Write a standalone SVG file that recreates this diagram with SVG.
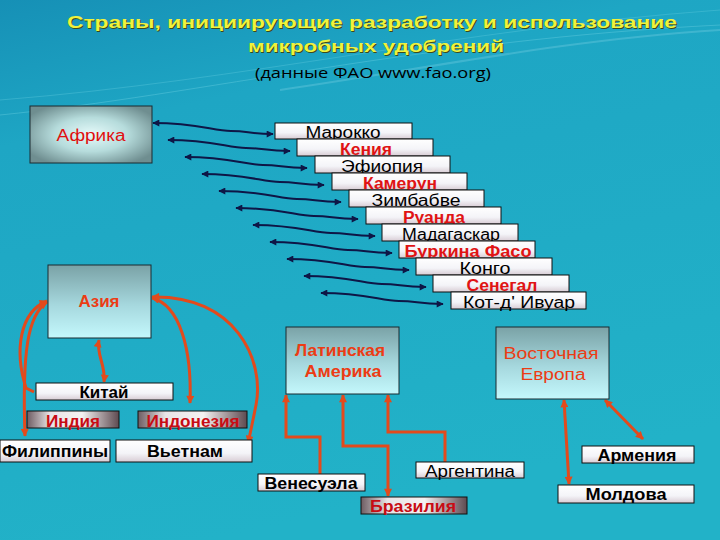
<svg xmlns="http://www.w3.org/2000/svg" width="720" height="540" viewBox="0 0 720 540">
<defs>
<linearGradient id="bg" x1="0" y1="0" x2="0.3" y2="1">
<stop offset="0" stop-color="#1690b6"/>
<stop offset="0.25" stop-color="#1ea6c4"/>
<stop offset="1" stop-color="#22b2c8"/>
</linearGradient>
<radialGradient id="gAfr" cx="0.5" cy="0.5" r="0.6">
<stop offset="0" stop-color="#e6fafa"/>
<stop offset="0.5" stop-color="#b6dcdc"/>
<stop offset="1" stop-color="#6f8e90"/>
</radialGradient>
<linearGradient id="gReg" x1="0" y1="0" x2="0" y2="1">
<stop offset="0" stop-color="#7aa2a6"/>
<stop offset="0.55" stop-color="#a6d8de"/>
<stop offset="1" stop-color="#c4f8fc"/>
</linearGradient>
<linearGradient id="gWhite" x1="0" y1="0" x2="0" y2="1">
<stop offset="0" stop-color="#ffffff"/>
<stop offset="0.6" stop-color="#f4f4f8"/>
<stop offset="1" stop-color="#d8ccd4"/>
</linearGradient>
<linearGradient id="gDark" x1="0" y1="0" x2="1" y2="0">
<stop offset="0" stop-color="#6e5c62"/>
<stop offset="0.25" stop-color="#e8e4e6"/>
<stop offset="0.6" stop-color="#f4f2f2"/>
<stop offset="1" stop-color="#5e4a50"/>
</linearGradient>
<marker id="mNav" viewBox="0 0 10 10" refX="9" refY="5" markerWidth="9" markerHeight="7" orient="auto-start-reverse" markerUnits="userSpaceOnUse">
<path d="M0,0 L10,5 L0,10 z" fill="#0e1646"/>
</marker>
<marker id="mOr" viewBox="0 0 10 10" refX="9" refY="5" markerWidth="9" markerHeight="8" orient="auto-start-reverse" markerUnits="userSpaceOnUse">
<path d="M0,0 L10,5 L0,10 z" fill="#e34a1c"/>
</marker>
</defs>
<style>
.t{font-family:"Liberation Sans",Arial,sans-serif;font-size:16px;text-anchor:middle}
.b{font-weight:bold}
.blk{fill:#000}
.red{fill:#e01414;font-weight:bold}
.dred{fill:#c80c14;font-weight:bold}
.org{fill:#ec3c14;font-weight:bold}
.wbox{fill:url(#gWhite);stroke:#101010;stroke-width:1}
.dbox{fill:url(#gDark);stroke:#101010;stroke-width:1}
.rbox{fill:url(#gReg);stroke:#1a2a30;stroke-width:1}
.nav{fill:none;stroke:#0e1646;stroke-width:2;marker-start:url(#mNav);marker-end:url(#mNav)}
.or{fill:none;stroke:#e34a1c;stroke-width:3}
.me{marker-end:url(#mOr)}
.ms{marker-start:url(#mOr)}
.title{font-family:"Liberation Sans",Arial,sans-serif;font-weight:bold;font-size:17px;text-anchor:middle}
</style>
<rect x="0" y="0" width="720" height="540" fill="url(#bg)"/>
<path d="M0,115 C200,95 420,40 720,25" fill="none" stroke="#5cc8dc" stroke-width="1" opacity="0.5"/>
<path d="M0,100 C250,80 450,30 720,10" fill="none" stroke="#5cc8dc" stroke-width="1" opacity="0.4"/>
<path d="M280,90 C420,70 560,40 720,30" fill="none" stroke="#8ad8e8" stroke-width="2" opacity="0.3"/>

<g id="title">
<text class="title" x="373" y="29" fill="#3c4a1a" textLength="610" lengthAdjust="spacingAndGlyphs">Страны, инициирующие разработку и использование</text>
<text class="title" x="372" y="28" fill="#f0f23c" textLength="610" lengthAdjust="spacingAndGlyphs">Страны, инициирующие разработку и использование</text>
<text class="title" x="377" y="53" fill="#3c4a1a" textLength="256" lengthAdjust="spacingAndGlyphs">микробных удобрений</text>
<text class="title" x="376" y="52" fill="#f0f23c" textLength="256" lengthAdjust="spacingAndGlyphs">микробных удобрений</text>
<text x="373" y="78" font-family="'Open Sans','Liberation Sans',sans-serif" font-size="15" text-anchor="middle" fill="#000" textLength="236" lengthAdjust="spacingAndGlyphs">(данные ФАО www.fao.org)</text>
</g>

<g id="connectors">
<path class="nav" d="M153,123 C198,123 213,131 231,131 S248,134 273,134"/>
<path class="nav" d="M168,140 C213,140 228,148 246,148 S265,151 290,151"/>
<path class="nav" d="M185,157 C230,157 245,165 263,165 S282,168 307,168"/>
<path class="nav" d="M202,174 C247,174 262,182 280,182 S299,185 324,185"/>
<path class="nav" d="M219,191 C264,191 279,199 297,199 S316,202 341,202"/>
<path class="nav" d="M236,208 C281,208 296,216 314,216 S333,219 358,219"/>
<path class="nav" d="M253,225 C298,225 313,233 331,233 S350,236 375,236"/>
<path class="nav" d="M270,242 C315,242 330,250 348,250 S367,253 392,253"/>
<path class="nav" d="M287,259 C332,259 347,267 365,267 S384,270 409,270"/>
<path class="nav" d="M304,276 C349,276 364,284 382,284 S401,287 426,287"/>
<path class="nav" d="M321,293 C366,293 381,301 399,301 S418,304 443,304"/>

<path class="or me ms" d="M99,340 C96,355 106,365 104,382"/>
<path class="or ms" d="M47,301 C20,312 14,350 26,388 L34,392"/>
<path class="or ms me" d="M47,302 C28,315 22,350 25,436"/>
<path class="or ms me" d="M152,298 C180,305 192,350 190,403"/>
<path class="or ms me" d="M152,297 C235,295 265,360 256,405 C252,425 250,435 248,443"/>

<path class="or me" d="M320,474 V437 H286 V395"/>
<path class="or ms me" d="M343,395 V446 H388 V496"/>
<path class="or me" d="M445,462 V432 H388 V395"/>

<path class="or ms me" d="M564,400 L569,484"/>
<path class="or ms me" d="M605,400 L643,439"/>
</g>

<g id="africa"><rect x="30" y="106" width="122" height="57" fill="url(#gAfr)" stroke="#1a2a30"/><text class="t" x="91" y="141" font-size="18" fill="#e01010" textLength="69" lengthAdjust="spacingAndGlyphs">Африка</text></g>
<g id="asia"><rect x="48" y="265" width="103" height="73" class="rbox"/><text class="t org" x="99" y="307" textLength="41" lengthAdjust="spacingAndGlyphs">Азия</text></g>
<g id="latam"><rect x="286" y="327" width="113" height="67" class="rbox"/><text class="t org" x="340" y="356" font-size="15" textLength="90" lengthAdjust="spacingAndGlyphs">Латинская</text><text class="t org" x="343" y="377" font-size="15" textLength="77" lengthAdjust="spacingAndGlyphs">Америка</text></g>
<g id="easteurope"><rect x="496" y="327" width="113" height="72" class="rbox"/><text class="t" x="551" y="359" font-size="15" fill="#ec3c14" textLength="95" lengthAdjust="spacingAndGlyphs">Восточная</text><text class="t" x="553" y="380" font-size="15" fill="#ec3c14" textLength="65" lengthAdjust="spacingAndGlyphs">Европа</text></g>

<g id="morocco"><rect x="275" y="123" width="137" height="16" class="wbox"/><text class="t blk" x="343" y="138" textLength="75" lengthAdjust="spacingAndGlyphs">Марокко</text></g>
<g id="kenya"><rect x="297" y="139" width="136" height="17" class="wbox"/><text class="t red" x="366" y="155" textLength="52" lengthAdjust="spacingAndGlyphs">Кения</text></g>
<g id="ethiopia"><rect x="315" y="156" width="135" height="17" class="wbox"/><text class="t blk" x="382" y="172" textLength="82" lengthAdjust="spacingAndGlyphs">Эфиопия</text></g>
<g id="cameroon"><rect x="332" y="173" width="135" height="17" class="wbox"/><text class="t red" x="400" y="189" textLength="74" lengthAdjust="spacingAndGlyphs">Камерун</text></g>
<g id="zimbabwe"><rect x="349" y="190" width="135" height="17" class="wbox"/><text class="t blk" x="416" y="206" textLength="89" lengthAdjust="spacingAndGlyphs">Зимбабве</text></g>
<g id="rwanda"><rect x="366" y="207" width="135" height="17" class="wbox"/><text class="t red" x="434" y="223" textLength="62" lengthAdjust="spacingAndGlyphs">Руанда</text></g>
<g id="madagascar"><rect x="382" y="224" width="136" height="17" class="wbox"/><text class="t blk" x="451" y="240" textLength="98" lengthAdjust="spacingAndGlyphs">Мадагаскар</text></g>
<g id="burkina"><rect x="399" y="241" width="136" height="17" class="wbox"/><text class="t red" x="468" y="257" textLength="127" lengthAdjust="spacingAndGlyphs">Буркина Фасо</text></g>
<g id="congo"><rect x="416" y="258" width="136" height="17" class="wbox"/><text class="t blk" x="485" y="274" textLength="51" lengthAdjust="spacingAndGlyphs">Конго</text></g>
<g id="senegal"><rect x="433" y="275" width="136" height="17" class="wbox"/><text class="t red" x="502" y="291" textLength="71" lengthAdjust="spacingAndGlyphs">Сенегал</text></g>
<g id="ivorycoast"><rect x="451" y="292" width="135" height="17" class="wbox"/><text class="t blk" x="519" y="308" textLength="112" lengthAdjust="spacingAndGlyphs">Кот-д' Ивуар</text></g>

<g id="china"><rect x="36" y="383" width="137" height="17" class="wbox"/><text class="t blk b" x="104" y="398" textLength="49" lengthAdjust="spacingAndGlyphs">Китай</text></g>
<g id="india"><rect x="27" y="411" width="92" height="17" class="dbox"/><text class="t dred" x="73" y="427" textLength="54" lengthAdjust="spacingAndGlyphs">Индия</text></g>
<g id="indonesia"><rect x="138" y="411" width="109" height="17" class="dbox"/><text class="t dred" x="193" y="427" textLength="93" lengthAdjust="spacingAndGlyphs">Индонезия</text></g>
<g id="philippines"><rect x="0" y="440" width="110" height="22" class="wbox"/><text class="t blk b" x="55" y="457" textLength="106" lengthAdjust="spacingAndGlyphs">Филиппины</text></g>
<g id="vietnam"><rect x="116" y="440" width="136" height="22" class="wbox"/><text class="t blk b" x="185" y="457" textLength="76" lengthAdjust="spacingAndGlyphs">Вьетнам</text></g>

<g id="venezuela"><rect x="258" y="474" width="107" height="17" class="wbox"/><text class="t blk b" x="311" y="489" textLength="93" lengthAdjust="spacingAndGlyphs">Венесуэла</text></g>
<g id="brazil"><rect x="361" y="497" width="106" height="17" class="dbox"/><text class="t dred" x="413" y="512" textLength="86" lengthAdjust="spacingAndGlyphs">Бразилия</text></g>
<g id="argentina"><rect x="416" y="462" width="108" height="16" class="wbox"/><text class="t blk" x="470" y="477" textLength="90" lengthAdjust="spacingAndGlyphs">Аргентина</text></g>
<g id="armenia"><rect x="582" y="446" width="112" height="17" class="wbox"/><text class="t blk b" x="637" y="461" textLength="79" lengthAdjust="spacingAndGlyphs">Армения</text></g>
<g id="moldova"><rect x="558" y="485" width="136" height="18" class="wbox"/><text class="t blk b" x="626" y="500" textLength="81" lengthAdjust="spacingAndGlyphs">Молдова</text></g>
</svg>
